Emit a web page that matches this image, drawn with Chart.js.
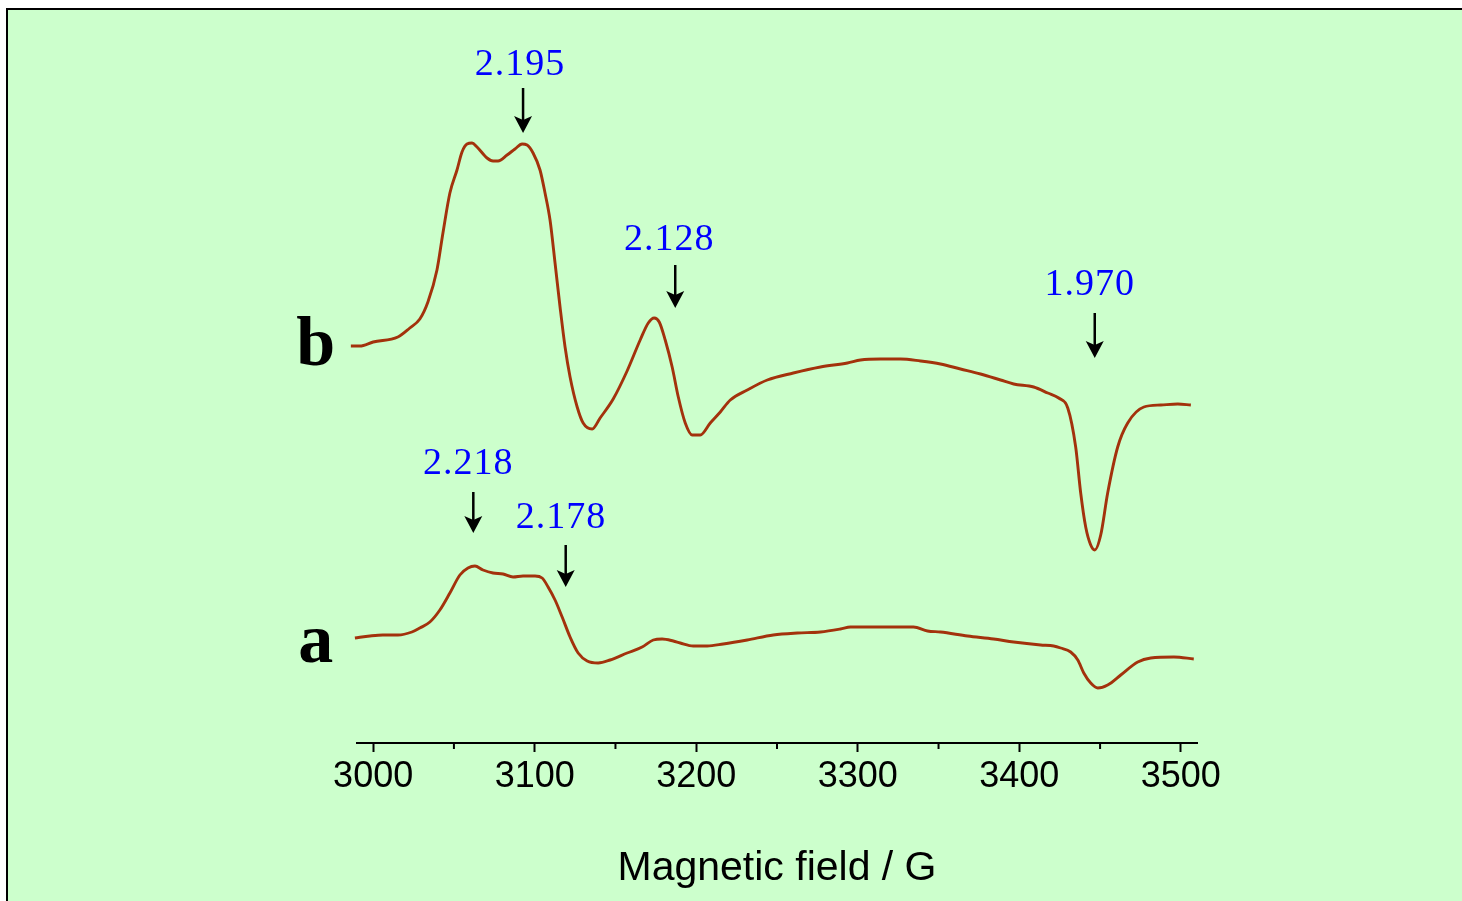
<!DOCTYPE html>
<html>
<head>
<meta charset="utf-8">
<script src="https://cdn.jsdelivr.net/npm/chart.js@4.4.0/dist/chart.umd.min.js"></script>
<style>
  html, body { margin: 0; padding: 0; background: #fff; overflow: hidden; }
  #frame { position: fixed; left: 6px; top: 8px; right: -30px; bottom: -30px;
           background: #ccffcc; border-left: 2px solid #000; border-top: 2px solid #000; }
  #spectrum { position: absolute; left: 0; top: 0; }
</style>
</head>
<body>
<div id="frame"></div>
<canvas id="spectrum" width="1462" height="901"></canvas>
<script>
// Field axis (G)
const fieldTicks = [3000, 3100, 3200, 3300, 3400, 3500];
const minorTicks = [3050, 3150, 3250, 3350, 3450];

// Trace a (lower) - field in G, signal in a.u.
const fieldA = [2988.7, 2998.0, 3006.0, 3015.3, 3024.0, 3028.9, 3035.1, 3041.3, 3047.5, 3053.7,
  3058.7, 3063.0, 3068.0, 3074.2, 3080.4, 3086.6, 3092.8, 3100.2, 3104.6, 3108.3,
  3112.6, 3117.0, 3121.9, 3126.9, 3132.5, 3139.3, 3146.7, 3157.2, 3166.5, 3173.4,
  3178.9, 3185.8, 3190.1, 3198.2, 3206.8, 3216.7, 3231.6, 3247.7, 3262.6, 3276.9,
  3289.3, 3295.5, 3314.1, 3334.5, 3343.2, 3351.2, 3368.0, 3384.1, 3396.5, 3413.2,
  3421.3, 3425.6, 3431.8, 3436.2, 3439.9, 3444.2, 3448.6, 3454.7, 3462.8, 3473.3,
  3481.4, 3495.7, 3508.0];
const signalA = [105, 107, 108, 108, 111, 115, 121, 133, 150, 168,
  175, 177, 173, 170, 169, 166, 167, 167, 165, 156,
  143, 126, 106, 90, 82, 80, 83, 90, 96, 103,
  104, 102, 100, 97, 97, 99, 103, 108, 110, 111,
  114, 116, 116, 116, 112, 111, 107, 104, 101, 98,
  97, 95, 91, 83, 70, 60, 55, 58, 68, 81,
  85, 86, 84];

// Trace b (upper)
const fieldB = [2986.2, 2991.8, 3000.0, 3015.3, 3022.7, 3028.9, 3033.9, 3039.5, 3043.2, 3047.5,
  3051.9, 3055.0, 3058.1, 3061.2, 3064.3, 3070.5, 3074.2, 3077.3, 3082.9, 3087.8,
  3092.2, 3095.3, 3099.0, 3103.3, 3106.4, 3109.5, 3112.6, 3115.7, 3118.8, 3121.9,
  3126.3, 3130.0, 3135.6, 3140.5, 3148.6, 3157.2, 3165.3, 3170.3, 3174.0, 3177.1,
  3180.8, 3185.1, 3188.9, 3193.2, 3197.5, 3202.5, 3208.7, 3214.9, 3221.1, 3231.6,
  3244.0, 3260.1, 3276.9, 3293.6, 3301.7, 3314.1, 3326.5, 3338.8, 3351.2, 3363.6,
  3376.0, 3388.4, 3396.5, 3408.9, 3417.6, 3424.4, 3430.0, 3434.9, 3438.0, 3441.1,
  3444.2, 3446.7, 3450.4, 3454.7, 3460.9, 3467.1, 3477.1, 3487.6, 3498.1, 3506.2];
const signalB = [397, 397, 401, 406, 415, 424, 441, 473, 510, 550,
  573, 591, 599, 600, 596, 585, 582, 582, 588, 594,
  599, 598, 590, 573, 550, 523, 480, 436, 396, 366,
  336, 320, 314, 325, 344, 372, 403, 420, 425, 421,
  403, 376, 346, 320, 308, 308, 320, 331, 343, 353,
  363, 370, 376, 380, 383, 384, 384, 382, 379, 374,
  369, 363, 359, 356, 350, 345, 335, 296, 250, 216,
  198, 193, 208, 250, 296, 320, 336, 338, 339, 338];

// trace names and where they sit
const traceNames = ['a', 'b'];
const traceNameField = [2964.5, 2964.5];
const traceNameY = [81, 378];

// g-value markers: text, arrow field, text field, text baseline, arrow top, arrow tip
const gLabels = ['2.195', '2.128', '1.970', '2.218', '2.178'];
const gArrowField = [3092.8, 3187.0, 3446.7, 3062.0, 3119.2];
const gTextField = [3090.9, 3183.3, 3443.6, 3058.8, 3116.3];
const gTextY = [668, 493, 448, 269, 215];
const gArrowTop = [655, 478, 430, 251, 198];
const gArrowTip = [610, 435, 385, 210, 156];

const lineColor = '#a3320c';

const toPoints = (xs, ys) => xs.map((x, i) => ({ x: x, y: ys[i] }));

const markers = {
  id: 'markers',
  afterDatasetsDraw(chart) {
    const { ctx, scales: { x, y } } = chart;
    ctx.save();
    // trace names
    ctx.fillStyle = '#000';
    ctx.font = 'bold 70px "Liberation Serif", "Times New Roman", serif';
    ctx.textAlign = 'center';
    ctx.textBaseline = 'alphabetic';
    traceNames.forEach((t, i) => {
      ctx.fillText(t, x.getPixelForValue(traceNameField[i]), y.getPixelForValue(traceNameY[i]));
    });
    // g-value labels
    ctx.font = '38px "Liberation Serif", "Times New Roman", serif';
    ctx.fillStyle = '#0000ff';
    if ('letterSpacing' in ctx) ctx.letterSpacing = '1px';
    gLabels.forEach((t, i) => {
      ctx.fillText(t, x.getPixelForValue(gTextField[i]), y.getPixelForValue(gTextY[i]));
    });
    if ('letterSpacing' in ctx) ctx.letterSpacing = '0px';
    // arrows
    ctx.fillStyle = '#000';
    ctx.strokeStyle = '#000';
    ctx.lineWidth = 2.5;
    gLabels.forEach((t, i) => {
      const ax = x.getPixelForValue(gArrowField[i]);
      const top = y.getPixelForValue(gArrowTop[i]);
      const tip = y.getPixelForValue(gArrowTip[i]);
      ctx.beginPath();
      ctx.moveTo(ax, top);
      ctx.lineTo(ax, tip - 10);
      ctx.stroke();
      ctx.beginPath();
      ctx.moveTo(ax, tip);
      ctx.lineTo(ax - 9, tip - 17);
      ctx.lineTo(ax, tip - 13);
      ctx.lineTo(ax + 9, tip - 17);
      ctx.closePath();
      ctx.fill();
    });
    // minor ticks on the field axis
    const base = chart.chartArea.bottom;
    ctx.lineWidth = 2;
    minorTicks.forEach(v => {
      const px = x.getPixelForValue(v);
      ctx.beginPath();
      ctx.moveTo(px, base);
      ctx.lineTo(px, base + 6);
      ctx.stroke();
    });
    ctx.restore();
  }
};

new Chart(document.getElementById('spectrum'), {
  type: 'line',
  data: {
    datasets: [
      {
        label: 'a',
        data: toPoints(fieldA, signalA),
        borderColor: lineColor,
        borderWidth: 2.9,
        pointRadius: 0,
        cubicInterpolationMode: 'monotone',
        clip: false
      },
      {
        label: 'b',
        data: toPoints(fieldB, signalB),
        borderColor: lineColor,
        borderWidth: 2.9,
        pointRadius: 0,
        cubicInterpolationMode: 'monotone',
        clip: false
      }
    ]
  },
  options: {
    responsive: false,
    animation: false,
    devicePixelRatio: 1,
    layout: { padding: { left: 357, right: 265, top: 0, bottom: 0 } },
    plugins: { legend: { display: false }, tooltip: { enabled: false } },
    scales: {
      x: {
        type: 'linear',
        min: 2990,
        max: 3510,
        afterBuildTicks: scale => { scale.ticks = fieldTicks.map(v => ({ value: v })); },
        afterFit: scale => { scale.height = 158; },
        grid: { drawOnChartArea: false, drawTicks: true, tickLength: 9, tickWidth: 2, tickColor: '#000' },
        border: { display: true, color: '#000', width: 2 },
        ticks: {
          color: '#000',
          padding: 7,
          maxRotation: 0,
          autoSkip: false,
          callback: v => String(v),
          font: { family: '"Liberation Sans", Arial, sans-serif', size: 36, lineHeight: 1 }
        },
        title: {
          display: true,
          text: 'Magnetic field / G',
          color: '#000',
          padding: { top: 0, bottom: 12 },
          font: { family: '"Liberation Sans", Arial, sans-serif', size: 41, lineHeight: 1 }
        }
      },
      y: {
        display: false,
        min: 0,
        max: 743
      }
    }
  },
  plugins: [markers]
});
</script>
</body>
</html>
